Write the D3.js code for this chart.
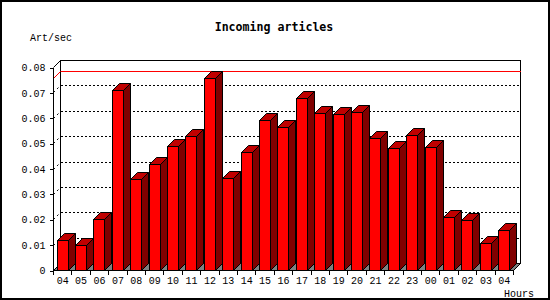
<!DOCTYPE html>
<html>
<head>
<meta charset="utf-8">
<script src="https://cdn.jsdelivr.net/npm/d3@7"></script>
<style>
	body { margin: 0; background: #fff; }
	text { font-family: 'Liberation Mono', 'DejaVu Sans Mono', monospace; font-size: 10px; fill: #000; }
</style>
</head>
<body>
<svg id="chart" width="550" height="300"></svg>
<script>

var aHours = ['04','05','06','07','08','09','10','11','12','13','14','15','16','17','18','19','20','21','22','23','00','01','02','03','04'];
var aArticles = [0.0117, 0.0097, 0.0200, 0.0711, 0.0359, 0.0418, 0.0490, 0.0529, 0.0757, 0.0363,
	0.0466, 0.0592, 0.0565, 0.0679, 0.0620, 0.0616, 0.0622, 0.0520, 0.0480, 0.0532,
	0.0484, 0.0208, 0.0196, 0.0105, 0.0157];
var aYTicks = [0, 0.01, 0.02, 0.03, 0.04, 0.05, 0.06, 0.07, 0.08];

var strTitle = 'Incoming articles';
var strYLabel = 'Art/sec';
var strXLabel = 'Hours';

var sSvg = d3.select('#chart');

// depth of the 3d effect
var nDepthX = 7;
var nDepthY = 7;

var nLeft = 53.5;
var nRight = 513.5;
var nBottom = 270.5;
var nTop = 67.5;

var scaleX = d3.scaleBand()
	.domain(d3.range(aHours.length))
	.range([nLeft, nRight])
	.paddingInner(0)
	.paddingOuter(0);

var scaleY = d3.scaleLinear()
	.domain([0, 0.08])
	.range([nBottom, nTop]);

function Px(v) { return Math.round(v - 0.5) + 0.5; }

// frame
sSvg.append('rect')
	.attr('x', 1).attr('y', 1)
	.attr('width', 548).attr('height', 298)
	.attr('fill', '#fff')
	.attr('stroke', '#000')
	.attr('stroke-width', 2);

// back wall
var nBackL = nLeft + nDepthX;
var nBackR = nRight + nDepthX;
var nBackTop = nTop - nDepthY;
var nBackBottom = nBottom - nDepthY;

sSvg.append('path')
	.attr('d', 'M' + nBackL + ',' + nBackBottom + 'V' + nBackTop + 'H' + nBackR + 'V' + nBackBottom)
	.attr('fill', 'none')
	.attr('stroke', '#000')
	.attr('shape-rendering', 'crispEdges');

sSvg.append('line')
	.attr('x1', nLeft).attr('y1', nTop)
	.attr('x2', nBackL).attr('y2', nBackTop)
	.attr('stroke', '#000');

// grid lines on back wall and left wall
aYTicks.slice(1, aYTicks.length - 1).forEach(function(v)
{
	var y = Px(scaleY(v));
	sSvg.append('line')
		.attr('x1', nBackL).attr('x2', nBackR)
		.attr('y1', y - nDepthY).attr('y2', y - nDepthY)
		.attr('stroke', '#000')
		.attr('stroke-dasharray', '2,2')
		.attr('shape-rendering', 'crispEdges');
	sSvg.append('line')
		.attr('x1', nLeft).attr('y1', y)
		.attr('x2', nBackL).attr('y2', y - nDepthY)
		.attr('stroke', '#000')
		.attr('stroke-dasharray', '2,3');
});

// peak line
var fPeak = d3.max(aArticles);
var yPeak = Px(scaleY(fPeak));
sSvg.append('line')
	.attr('x1', nBackL).attr('x2', nBackR)
	.attr('y1', yPeak - nDepthY).attr('y2', yPeak - nDepthY)
	.attr('stroke', '#f00')
	.attr('shape-rendering', 'crispEdges');
sSvg.append('line')
	.attr('x1', nLeft).attr('y1', yPeak)
	.attr('x2', nBackL).attr('y2', yPeak - nDepthY)
	.attr('stroke', '#f00');

// floor
sSvg.append('polygon')
	.attr('points', [[nLeft, nBottom], [nRight, nBottom], [nBackR, nBackBottom], [nBackL, nBackBottom]].join(' '))
	.attr('fill', '#808080')
	.attr('stroke', '#000');

// bars
var nBarWidth = 11;
var sBars = sSvg.selectAll('.bar')
	.data(aArticles)
	.enter()
		.append('g')
		.attr('class', 'bar');

function BarX(d, i) { return Px(scaleX(i) + 3.5); }

sBars.append('polygon')
	.attr('points', function(d, i)
	{
		var x = BarX(d, i), y = Px(scaleY(d));
		return [[x + nBarWidth, y], [x + nBarWidth + nDepthX, y - nDepthY], [x + nBarWidth + nDepthX, nBottom - nDepthY], [x + nBarWidth, nBottom]].join(' ');
	})
	.attr('fill', '#800000')
	.attr('stroke', '#000');

sBars.append('polygon')
	.attr('points', function(d, i)
	{
		var x = BarX(d, i), y = Px(scaleY(d));
		return [[x, y], [x + nDepthX, y - nDepthY], [x + nBarWidth + nDepthX, y - nDepthY], [x + nBarWidth, y]].join(' ');
	})
	.attr('fill', '#c00000')
	.attr('stroke', '#000');

sBars.append('rect')
	.attr('x', BarX)
	.attr('y', function(d) { return Px(scaleY(d)); })
	.attr('width', nBarWidth)
	.attr('height', function(d) { return nBottom - Px(scaleY(d)); })
	.attr('fill', '#f00')
	.attr('stroke', '#000')
	.attr('shape-rendering', 'crispEdges');

// front axes
sSvg.append('path')
	.attr('d', 'M' + nLeft + ',' + nTop + 'V' + nBottom + 'H' + nRight)
	.attr('fill', 'none')
	.attr('stroke', '#000')
	.attr('shape-rendering', 'crispEdges');

// y ticks
var sYAxis = sSvg.append('g')
	.attr('transform', 'translate(' + nLeft + ',0)')
	.call(d3.axisLeft(scaleY)
		.tickValues(aYTicks)
		.tickSize(4)
		.tickPadding(4)
		.tickFormat(function(v) { return v === 0 ? '0' : d3.format('.2f')(v); }));
sYAxis.select('.domain').remove();
sYAxis.selectAll('line').attr('shape-rendering', 'crispEdges');
sYAxis.selectAll('text').attr('font-family', null).attr('font-size', null);

// x ticks at band boundaries
d3.range(aHours.length + 1).forEach(function(i)
{
	var x = Px(nLeft + i * scaleX.bandwidth());
	sSvg.append('line')
		.attr('x1', x).attr('x2', x)
		.attr('y1', nBottom).attr('y2', nBottom + 4)
		.attr('stroke', '#000')
		.attr('shape-rendering', 'crispEdges');
});

var sXAxis = sSvg.append('g')
	.attr('transform', 'translate(0,' + nBottom + ')')
	.call(d3.axisBottom(scaleX)
		.tickSize(0)
		.tickPadding(6)
		.tickFormat(function(i) { return aHours[i]; }));
sXAxis.select('.domain').remove();
sXAxis.selectAll('text').attr('font-family', null).attr('font-size', null);

// labels
sSvg.append('text')
	.attr('x', 274).attr('y', 31)
	.attr('text-anchor', 'middle')
	.style('font-family', "'DejaVu Sans Mono', monospace")
	.style('font-weight', 'bold')
	.style('font-size', '11.6px')
	.text(strTitle);

sSvg.append('text')
	.attr('x', 30).attr('y', 40.5)
	.text(strYLabel);

sSvg.append('text')
	.attr('x', 504).attr('y', 297)
	.text(strXLabel);

</script>
</body>
</html>
